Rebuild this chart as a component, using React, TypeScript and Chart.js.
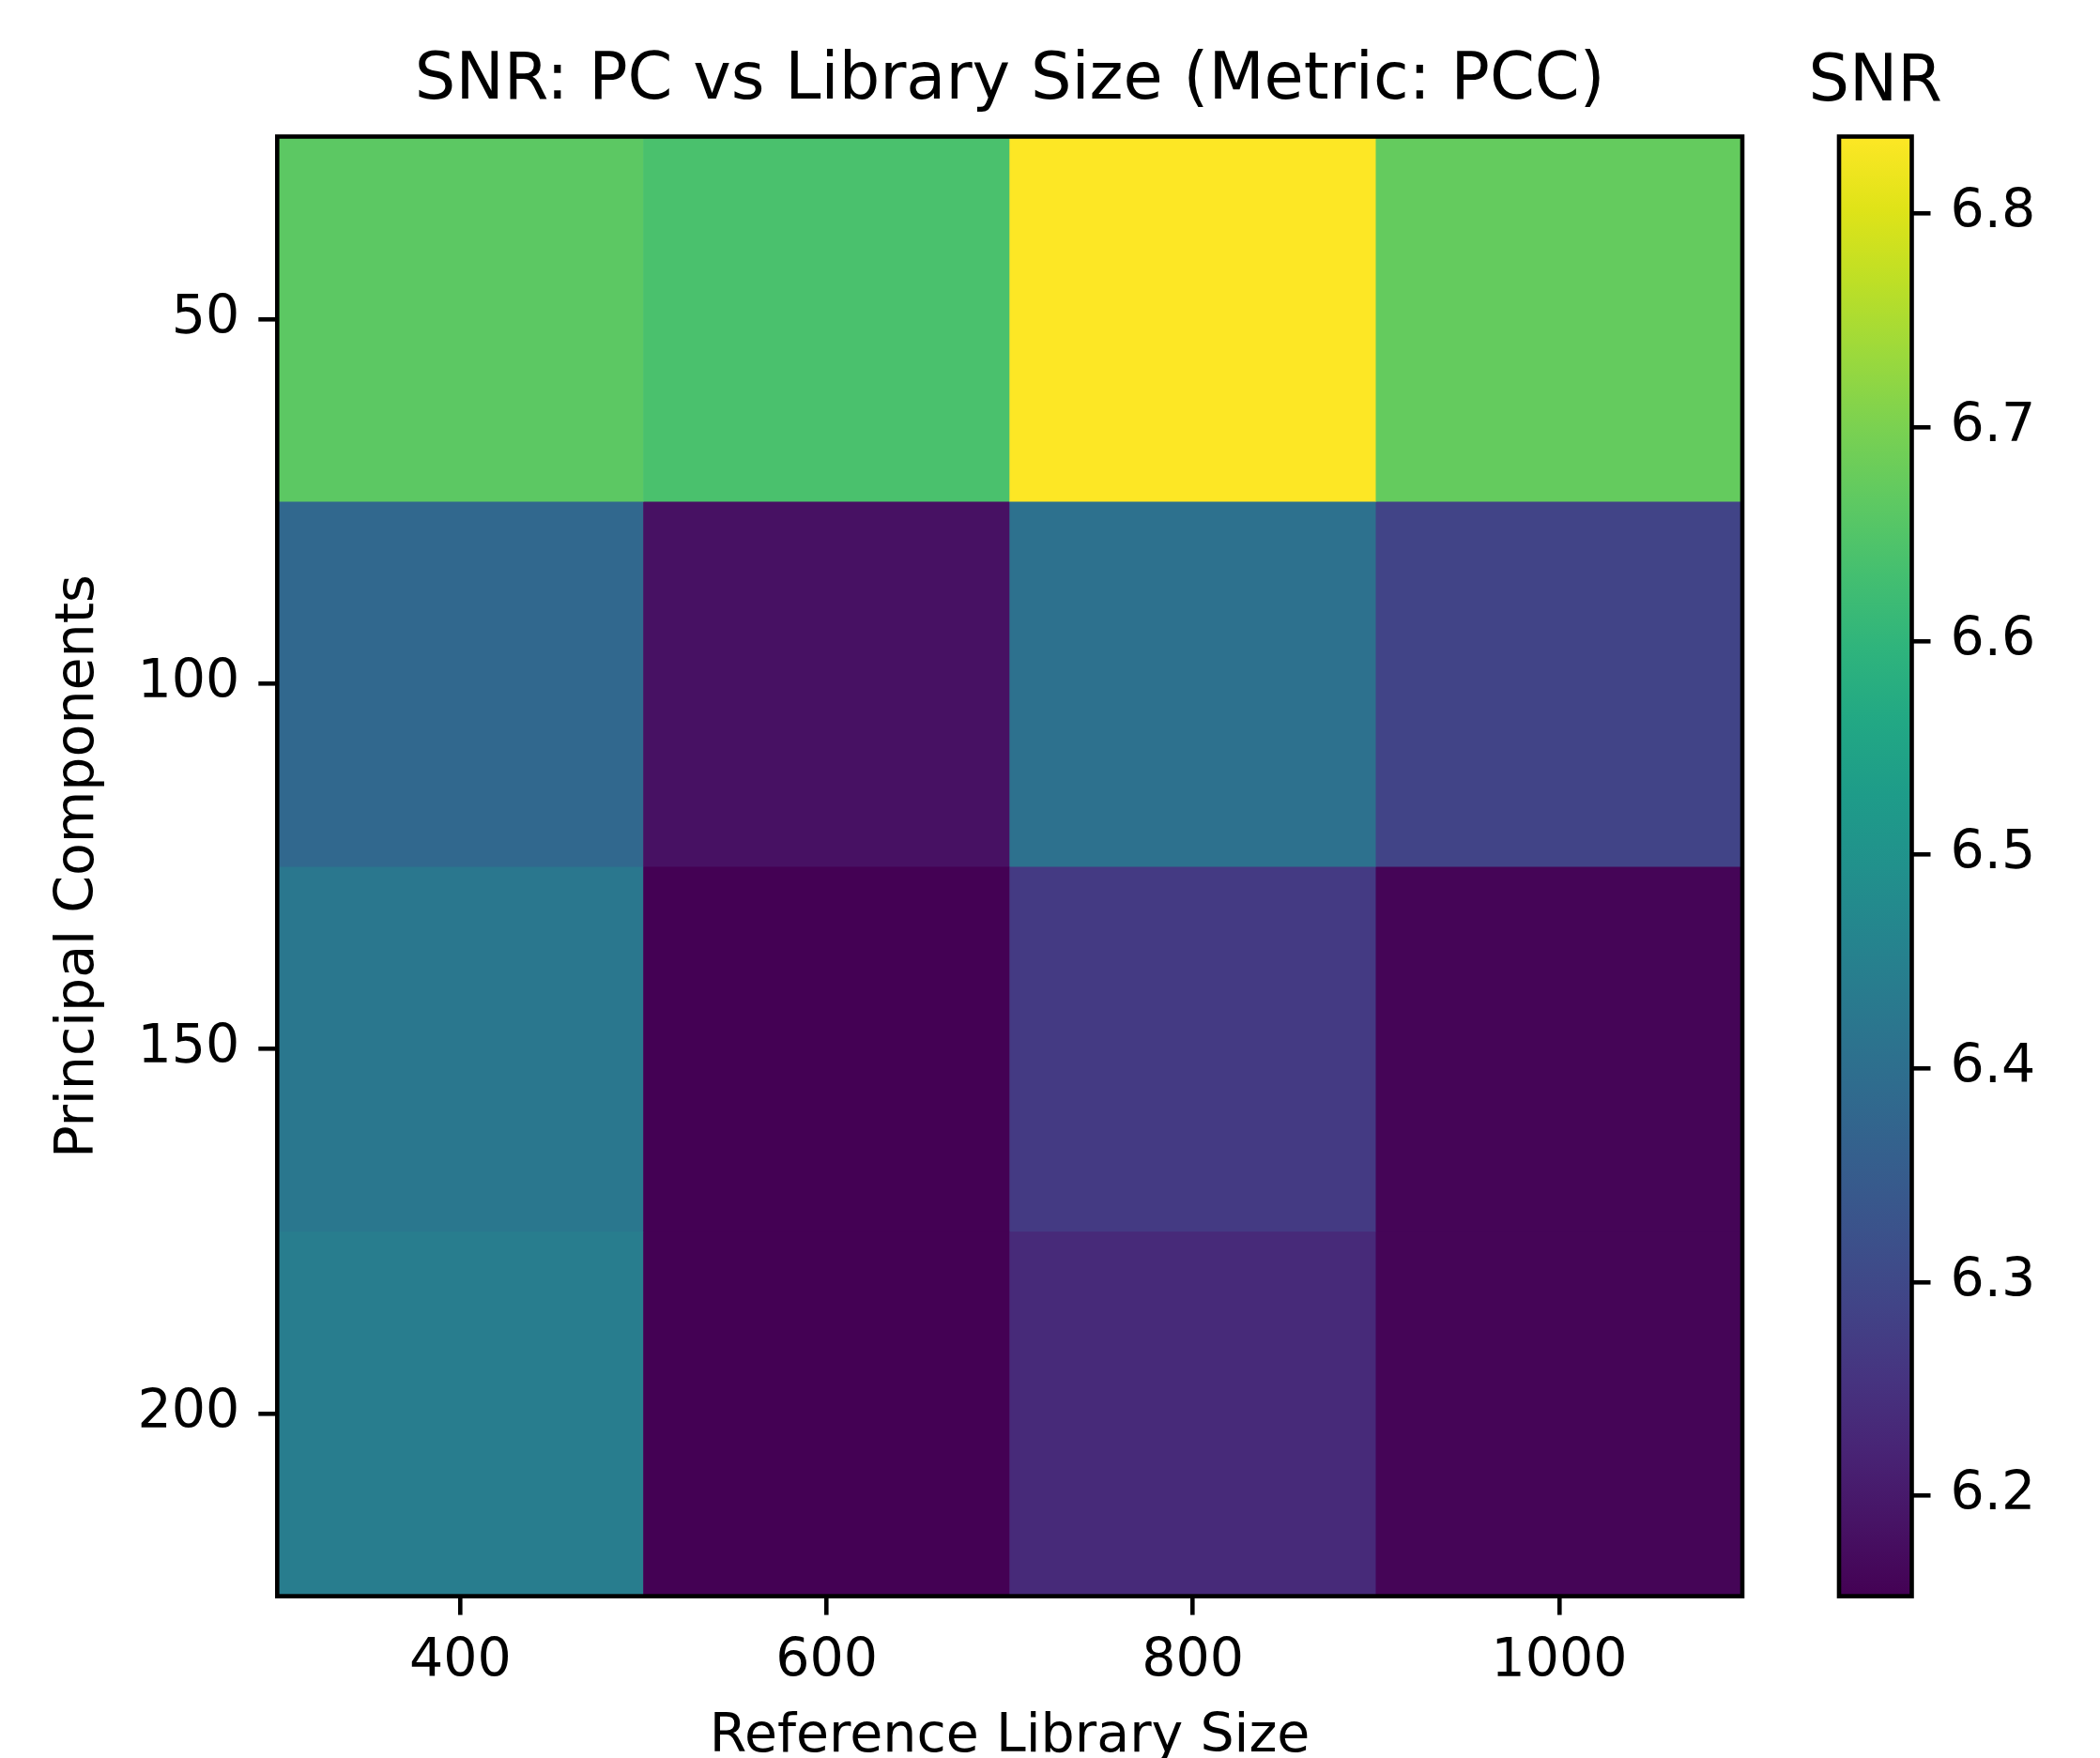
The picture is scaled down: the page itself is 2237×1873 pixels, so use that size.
import React, { useEffect, useRef } from 'react';
import { Chart, registerables } from 'chart.js';

Chart.register(...registerables);

// ---- Data ----
const libSizes = ['400', '600', '800', '1000'];
const pcValues = [50, 100, 150, 200];
const snrPC50 = [6.662, 6.639, 6.836, 6.673];
const snrPC100 = [6.382, 6.184, 6.406, 6.29];
const snrPC150 = [6.423, 6.153, 6.269, 6.16];
const snrPC200 = [6.44, 6.153, 6.235, 6.16];
const snrRows = [snrPC50, snrPC100, snrPC150, snrPC200];
const cbarTicks = [6.2, 6.3, 6.4, 6.5, 6.6, 6.7, 6.8];

// ---- Colormap (viridis) ----
const VIRIDIS = [
  '#440154', '#471365', '#482475', '#463480', '#414487', '#3b528b', '#355f8d',
  '#2f6c8e', '#2a788e', '#25848e', '#21918c', '#1e9c89', '#22a884', '#2fb47c',
  '#44bf70', '#5ec962', '#7ad151', '#9bd93c', '#bddf26', '#dfe318', '#fde725',
];

function hexToRgb(h: string) {
  const n = parseInt(h.slice(1), 16);
  return [(n >> 16) & 255, (n >> 8) & 255, n & 255];
}
function viridis(t: number) {
  const tt = Math.max(0, Math.min(1, t));
  const pos = tt * (VIRIDIS.length - 1);
  const i = Math.min(VIRIDIS.length - 2, Math.floor(pos));
  const f = pos - i;
  const a = hexToRgb(VIRIDIS[i]);
  const b = hexToRgb(VIRIDIS[i + 1]);
  const c = a.map((v, k) => Math.round(v + (b[k] - v) * f));
  return `rgb(${c[0]},${c[1]},${c[2]})`;
}

const allVals = snrRows.flat();
const vmin = Math.min(...allVals);
const vmax = Math.max(...allVals);

// ---- Style ----
const FONT = 'DejaVu Sans';
const TICK_SIZE = 57;
const TITLE_SIZE = 68.6;
const LW = 4.6;
const TL = 20;
const INK = '#000000';

const framePlugin = {
  id: 'frame',
  afterDatasetsDraw(chart: any) {
    const { ctx, chartArea: a } = chart;
    ctx.save();
    ctx.strokeStyle = INK;
    ctx.lineWidth = LW;
    ctx.strokeRect(a.left, a.top, a.right - a.left, a.bottom - a.top);
    ctx.restore();
  },
};

const cbTitlePlugin = {
  id: 'cbTitle',
  afterDraw(chart: any) {
    const { ctx, chartArea: a } = chart;
    ctx.save();
    ctx.fillStyle = INK;
    ctx.font = `${TITLE_SIZE}px "${FONT}"`;
    ctx.textAlign = 'center';
    ctx.textBaseline = 'alphabetic';
    ctx.fillText('SNR', (a.left + a.right) / 2, 107);
    ctx.restore();
  },
};

const tickGrid = {
  display: true,
  drawOnChartArea: false,
  drawTicks: true,
  tickLength: TL,
  tickWidth: LW,
  tickColor: INK,
  color: INK,
  lineWidth: LW,
  offset: false,
};

export default function App() {
  const mainRef = useRef<HTMLCanvasElement>(null);
  const cbRef = useRef<HTMLCanvasElement>(null);

  useEffect(() => {
    const half = (pcValues[1] - pcValues[0]) / 2;
    const main = new Chart(mainRef.current as HTMLCanvasElement, {
      type: 'bar',
      data: {
        labels: libSizes,
        datasets: snrRows.map((row, i) => ({
          label: `PC ${pcValues[i]}`,
          data: row.map(() => [pcValues[i] - half, pcValues[i] + half]),
          backgroundColor: row.map((v) => viridis((v - vmin) / (vmax - vmin))),
          borderWidth: 0,
          barPercentage: 1,
          categoryPercentage: 1,
          grouped: false,
        })) as any,
      },
      options: {
        responsive: false,
        animation: false,
        maintainAspectRatio: false,
        layout: { padding: { left: 0, right: 44, top: 0, bottom: 0 } },
        plugins: {
          legend: { display: false },
          tooltip: { enabled: false },
          title: {
            display: true,
            text: 'SNR: PC vs Library Size (Metric: PCC)',
            fullSize: false,
            color: INK,
            font: { family: FONT, size: TITLE_SIZE, weight: 'normal', lineHeight: 1 },
            padding: { top: 52.5, bottom: 24.4 },
          },
        },
        scales: {
          x: {
            type: 'category',
            offset: true,
            grid: tickGrid,
            border: { display: false },
            ticks: {
              color: INK,
              font: { family: FONT, size: TICK_SIZE, lineHeight: 1 },
              padding: 22,
              maxRotation: 0,
              autoSkip: false,
            },
            title: {
              display: true,
              text: 'Reference Library Size',
              color: INK,
              font: { family: FONT, size: TICK_SIZE, lineHeight: 1 },
              padding: { top: 0, bottom: -7 },
            },
            afterFit: (s: any) => {
              s.height = 172.4;
            },
          },
          y: {
            type: 'linear',
            reverse: true,
            min: pcValues[0] - half,
            max: pcValues[pcValues.length - 1] + half,
            afterBuildTicks: (s: any) => {
              s.ticks = pcValues.map((v) => ({ value: v }));
            },
            grid: tickGrid,
            border: { display: false },
            ticks: {
              color: INK,
              font: { family: FONT, size: TICK_SIZE, lineHeight: 1 },
              padding: 20,
            },
            title: {
              display: true,
              text: 'Principal Components',
              color: INK,
              font: { family: FONT, size: TICK_SIZE, lineHeight: 1 },
              padding: { top: 55.5, bottom: 0 },
            },
            afterFit: (s: any) => {
              s.width = 295.3;
            },
          },
        },
      } as any,
      plugins: [framePlugin],
    });

    const cb = new Chart(cbRef.current as HTMLCanvasElement, {
      type: 'bar',
      data: {
        labels: ['SNR'],
        datasets: [
          {
            label: 'SNR',
            data: [[vmin, vmax]] as any,
            backgroundColor: (c: any) => {
              const a = c.chart.chartArea;
              if (!a) return VIRIDIS[0];
              const g = c.chart.ctx.createLinearGradient(0, a.bottom, 0, a.top);
              VIRIDIS.forEach((col, i) => g.addColorStop(i / (VIRIDIS.length - 1), col));
              return g;
            },
            borderWidth: 0,
            barPercentage: 1,
            categoryPercentage: 1,
          },
        ],
      },
      options: {
        responsive: false,
        animation: false,
        maintainAspectRatio: false,
        layout: { padding: { left: 59, right: 0, top: 145.5, bottom: 172.4 } },
        plugins: {
          legend: { display: false },
          tooltip: { enabled: false },
          title: { display: false },
        },
        scales: {
          x: { display: false },
          y: {
            position: 'right',
            min: vmin,
            max: vmax,
            afterBuildTicks: (s: any) => {
              s.ticks = cbarTicks.map((v) => ({ value: v }));
            },
            grid: tickGrid,
            border: { display: false },
            ticks: {
              color: INK,
              font: { family: FONT, size: TICK_SIZE, lineHeight: 1 },
              padding: 21,
              callback: (v: any) => Number(v).toFixed(1),
            },
            afterFit: (s: any) => {
              s.width = 200.5;
            },
          },
        },
      } as any,
      plugins: [framePlugin, cbTitlePlugin],
    });

    return () => {
      main.destroy();
      cb.destroy();
    };
  }, []);

  return (
    <div
      style={{
        position: 'absolute',
        left: 0,
        top: 0,
        width: 2237,
        height: 1873,
        background: '#ffffff',
        overflow: 'hidden',
      }}
    >
      <canvas
        ref={mainRef}
        width={1900}
        height={1873}
        style={{ position: 'absolute', left: 0, top: 0, width: 1900, height: 1873 }}
      />
      <canvas
        ref={cbRef}
        width={337}
        height={1873}
        style={{ position: 'absolute', left: 1900, top: 0, width: 337, height: 1873 }}
      />
    </div>
  );
}
